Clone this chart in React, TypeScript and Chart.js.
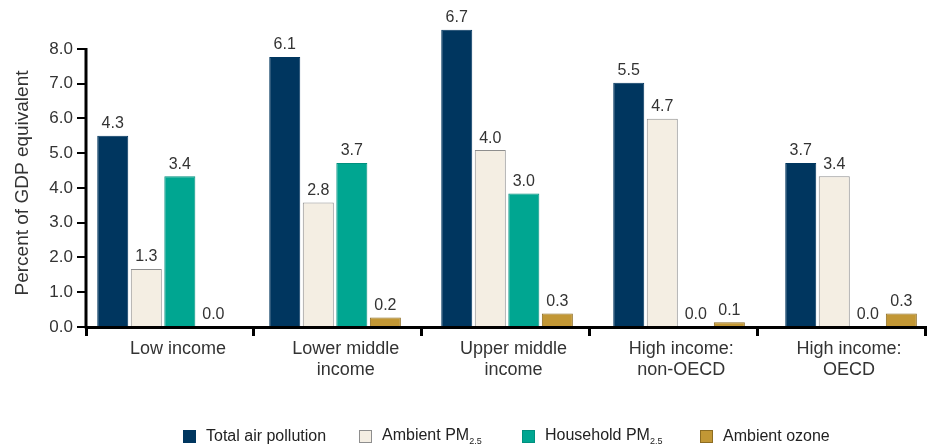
import React, { useEffect, useRef } from "react";
import { Chart, registerables } from "chart.js";

Chart.register(...registerables);

const categories: string[][] = [
  ["Low income"],
  ["Lower middle", "income"],
  ["Upper middle", "income"],
  ["High income:", "non-OECD"],
  ["High income:", "OECD"],
];

// bar heights as drawn on the picture's axis
const totalAir = [5.5, 7.77, 8.55, 7.03, 4.72];
const ambientPM = [1.67, 3.58, 5.09, 5.99, 4.34];
const householdPM = [4.34, 4.72, 3.84, 0, 0];
const ambientOzone = [0, 0.27, 0.39, 0.14, 0.39];

// value labels printed above the bars
const totalAirLabels = ["4.3", "6.1", "6.7", "5.5", "3.7"];
const ambientPMLabels = ["1.3", "2.8", "4.0", "4.7", "3.4"];
const householdPMLabels = ["3.4", "3.7", "3.0", "0.0", "0.0"];
const ambientOzoneLabels = ["0.0", "0.2", "0.3", "0.1", "0.3"];

const yTickMax = 8;
const yTitle = "Percent of GDP equivalent";

const FONT = "'Liberation Sans', Arial, Helvetica, sans-serif";

const seriesStyles = [
  { name: "Total air pollution", sub: "", bg: "#00365f", border: "#00365f", left: 183 },
  { name: "Ambient PM", sub: "2.5", bg: "#f4eee3", border: "#8e8e8e", left: 359 },
  { name: "Household PM", sub: "2.5", bg: "#00a691", border: "#00907e", left: 522 },
  { name: "Ambient ozone", sub: "", bg: "#c29735", border: "#8d6c22", left: 700 },
];

const seriesValues = [totalAir, ambientPM, householdPM, ambientOzone];
const seriesLabels = [totalAirLabels, ambientPMLabels, householdPMLabels, ambientOzoneLabels];

export default function App() {
  const canvasRef = useRef<HTMLCanvasElement | null>(null);

  useEffect(() => {
    const canvas = canvasRef.current;
    if (!canvas) return;

    const extras = {
      id: "extras",
      afterDatasetsDraw(chart: any) {
        const ctx = chart.ctx;
        ctx.save();
        ctx.font = `16px ${FONT}`;
        ctx.fillStyle = "#333";
        ctx.textAlign = "center";
        ctx.textBaseline = "bottom";
        chart.data.datasets.forEach((ds: any, di: number) => {
          const meta = chart.getDatasetMeta(di);
          meta.data.forEach((el: any, i: number) => {
            ctx.fillText(seriesLabels[di][i], el.x, el.y - 4);
          });
        });
        ctx.restore();
      },
      afterDraw(chart: any) {
        const ctx = chart.ctx;
        const y = chart.scales.y;
        const left = chart.chartArea.left;
        ctx.save();
        ctx.strokeStyle = "#000";
        ctx.lineWidth = 3;
        ctx.beginPath();
        ctx.moveTo(left, y.getPixelForValue(yTickMax) - 1);
        ctx.lineTo(left, y.getPixelForValue(0) + 1.5);
        ctx.stroke();
        // y title
        ctx.translate(23, (y.getPixelForValue(yTickMax) + y.getPixelForValue(0)) / 2 - 5);
        ctx.rotate(-Math.PI / 2);
        ctx.font = `19px ${FONT}`;
        ctx.fillStyle = "#333";
        ctx.textAlign = "center";
        ctx.textBaseline = "middle";
        ctx.fillText(yTitle, 0, 0);
        ctx.restore();
      },
    };

    const chart = new Chart(canvas, {
      type: "bar",
      data: {
        labels: categories,
        datasets: seriesStyles.map((s, i) => ({
          label: s.name + s.sub,
          data: seriesValues[i].map((v, ci) => ({ x: ci, y: v })),
          xAxisID: "xb",
          backgroundColor: s.bg,
          borderColor: s.border,
          borderWidth: (c: any) => (c.raw && c.raw.y === 0 ? 0 : 1),
          barPercentage: 0.925,
          categoryPercentage: 0.78,
        })),
      },
      options: {
        animation: false,
        responsive: true,
        maintainAspectRatio: false,
        layout: { padding: { top: 12, right: 2, left: 0, bottom: 0 } },
        plugins: {
          legend: { display: false },
          tooltip: { enabled: false },
        },
        scales: {
          x: {
            type: "category",
            offset: true,
            grid: {
              offset: true,
              drawOnChartArea: false,
              drawTicks: true,
              tickLength: 9,
              lineWidth: 3,
              color: "#000",
            },
            border: { display: true, width: 3, color: "#000" },
            ticks: {
              font: { size: 18, family: FONT },
              color: "#333",
              padding: 2,
              labelOffset: 8,
              maxRotation: 0,
              autoSkip: false,
            },
            afterFit: (scale: any) => {
              scale.height = 120;
            },
          },
          xb: {
            type: "linear",
            position: "bottom",
            display: false,
            offset: false,
            min: -0.448,
            max: 4.43,
            afterBuildTicks: (scale: any) => {
              scale.ticks = categories.map((_, i) => ({ value: i }));
            },
          },
          y: {
            min: 0,
            max: 9,
            ticks: {
              stepSize: 1,
              font: { size: 17, family: FONT },
              color: "#333",
              padding: 4,
              callback: (v: any) => Number(v).toFixed(1),
            },
            afterBuildTicks: (scale: any) => {
              scale.ticks = scale.ticks.filter((t: any) => t.value <= yTickMax);
            },
            grid: {
              drawOnChartArea: false,
              drawTicks: true,
              tickLength: 9,
              lineWidth: 2,
              color: "#000",
            },
            border: { display: false },
            afterFit: (scale: any) => {
              scale.width = 86;
            },
          },
        },
      },
      plugins: [extras],
    });

    return () => chart.destroy();
  }, []);

  return (
    <div style={{ position: "absolute", left: 0, top: 0, width: 927, height: 447, background: "#fff" }}>
      <canvas ref={canvasRef} />
      {seriesStyles.map((s) => (
        <div
          key={s.name}
          style={{
            position: "absolute",
            left: s.left,
            top: 427,
            height: 18,
            display: "flex",
            alignItems: "center",
            fontFamily: FONT,
            fontSize: 16,
            color: "#222",
            whiteSpace: "nowrap",
          }}
        >
          <span
            style={{
              display: "inline-block",
              width: 11,
              height: 11,
              background: s.bg,
              border: `1px solid ${s.border}`,
              marginRight: 10,
            }}
          />
          <span>
            {s.name}
            {s.sub ? <sub style={{ fontSize: 9 }}>{s.sub}</sub> : null}
          </span>
        </div>
      ))}
    </div>
  );
}
